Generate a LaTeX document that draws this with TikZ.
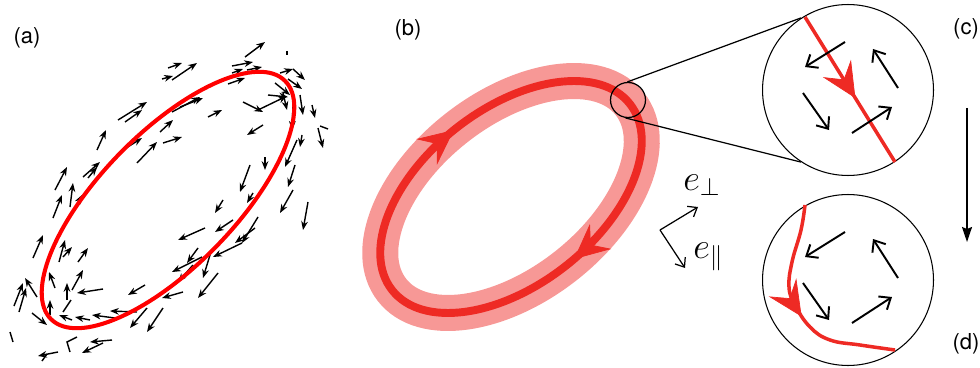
\documentclass[tikz,border=0pt]{standalone}
\usepackage{fontspec}
\setsansfont{TeX Gyre Heros}
\usepackage{tikz}
\usetikzlibrary{arrows.meta, decorations.markings, positioning}
\definecolor{vortexred}{RGB}{255, 0, 0}
\definecolor{loopred}{RGB}{238, 42, 36}
\definecolor{bandpink}{RGB}{247, 152, 150}
\tikzset{
  flowmark/.style={postaction={decorate, decoration={markings, mark=at position #1 with {\arrow[line width=0.4pt]{Stealth[length=0.7cm, width=0.66cm, inset=0.26cm]}}}}},
  spin/.style={-{Stealth[length=5pt, width=3.8pt]}, line width=0.8pt},
  spintick/.style={line width=0.8pt},
  bigspin/.style={-{Straight Barb[length=5.5pt, width=9pt]}, line width=1.1pt},
  zoomcirc/.style={circle, draw, line width=0.6pt, inner sep=0pt, minimum size=3.42cm},
  lenscirc/.style={circle, draw, line width=0.7pt, inner sep=0pt, minimum size=0.7cm},
  zoomline/.style={line width=0.7pt},
  axisarrow/.style={-{Straight Barb[length=4.5pt, width=7pt]}, line width=0.7pt},
  panellabel/.style={inner sep=0pt, font=\sffamily\fontsize{12.5}{15}\selectfont},
  basislabel/.style={anchor=base west, inner sep=0pt, font=\huge}
}

\begin{document}
\begin{tikzpicture}[x=0.02cm, y=-0.02cm]
    \useasboundingbox (0,0) rectangle (980,368);
    % (a) spin field around the vortex loop
    \foreach \xa/\ya/\xb/\yb in {245/57/265/42, 168/68/182/63, 162/79/173/76, 172/80/197/63,
        232/66/253/62, 232/73/243/69, 247/70/262/67, 228/84/245/78, 280/73/293/69, 293/69/305/80,
        288/79/302/89, 275/83/290/95, 268/95/288/97, 243/102/263/112, 258/110/287/96, 283/93/287/110,
        300/95/303/115, 312/105/315/118, 318/128/323/148, 293/105/292/130, 302/135/300/147,
        297/140/285/167, 295/165/288/187, 265/157/265/170, 250/165/240/192, 263/125/247/135,
        208/117/222/110, 253/193/247/203, 223/200/215/213, 308/202/303/230, 293/190/280/213,
        233/220/215/232, 205/228/178/240, 258/217/242/243, 255/228/235/243, 242/243/213/257,
        198/248/187/263, 202/257/172/272, 210/255/203/278, 218/273/198/298, 183/292/162/298,
        193/265/178/282, 118/120/147/102, 125/122/142/110, 137/163/157/142, 163/143/182/137,
        160/132/173/120, 123/150/142/138, 172/112/200/97, 180/107/203/98, 97/150/106/130,
        83/177/100/162, 88/178/97/167, 55/190/67/167, 70/207/73/183, 75/208/82/195, 53/218/62/195,
        33/258/43/235, 59/262/65/240, 63/257/72/247, 78/262/88/248, 55/288/49/272, 72/290/83/270,
        67/300/67/283, 103/289/77/293, 145/285/128/295, 14/306/23/283, 19/312/26/288, 37/297/25/278,
        32/313/47/325, 50/315/50/300, 72/320/59/315, 90/320/75/317, 115/318/92/315, 137/312/110/311,
        147/308/130/328, 163/308/147/332, 112/340/90/342, 103/343/82/353, 58/352/38/356}
        \draw[spin] (\xa,\ya) -- (\xb,\yb);
    \draw[spintick] (287,51) -- (287,55);
    \draw[spintick] (320,126) -- (328,129);
    \draw[spintick] (10,332) -- (13,342);
    \draw[spintick] (77,337) -- (67,342) -- (70,352);
    \draw[spintick] (63,312) -- (71,300);
    \draw[spintick] (42,361) -- (47,354);
    \draw[vortexred, line width=2.3pt, rotate around={45.6:(168,200)}] (168,200) ellipse [x radius=167, y radius=67];
    \node[panellabel] (labela) at (27,38) {(a)};

    % (b) smoothed loop with its core
    \draw[bandpink, line width=0.72cm, rotate around={38:(511,197)}] (511,197) ellipse [x radius=151, y radius=88];
    \draw[loopred, line width=4.5pt, rotate around={38:(511,197)}, flowmark=0.235, flowmark=0.745] (511,197) ellipse [x radius=151, y radius=88];
    \node[panellabel] (labelb) at (408,30) {(b)};
    \node[lenscirc] (lens) at (628,100) {};

    % basis vectors
    \coordinate (axo) at (660,230);
    \coordinate (eperp) at (698,207);
    \coordinate (epar) at (685,268);
    \draw[axisarrow] (axo) -- (eperp);
    \draw[axisarrow] (axo) -- (epar);
    \node[basislabel] (lperp) at (683,190) {$e_\perp$};
    \node[basislabel] (lpar) at (693,258) {$e_\parallel$};

    % (c) zoom before, (d) after
    \node[zoomcirc] (zoomc) at (848,90) {};
    \node[zoomcirc] (zoomd) at (848,280) {};
    \draw[zoomline] (lens.92) -- (zoomc.123);
    \draw[zoomline] (lens.262) -- (zoomc.237);
    \draw[loopred, line width=2pt, flowmark=0.56] (805,17) -- (895,162);
    \draw[loopred, line width=2pt, flowmark=0.53] plot[smooth, tension=0.7] coordinates {(805,205) (801,230) (792,262) (789,287) (795,305) (810,327) (830,340) (860,345) (895,350)};
    \foreach \dy in {0,190} {
        \draw[bigspin] (845,42+\dy) -- (805,67+\dy);
        \draw[bigspin] (898,88+\dy) -- (873,49+\dy);
        \draw[bigspin] (803,93+\dy) -- (829,130+\dy);
        \draw[bigspin] (852,133+\dy) -- (892,107+\dy);
    }
    \coordinate (flowtop) at (967,108);
    \coordinate (flowbot) at (967,242);
    \draw[-{Stealth[length=0.3cm, width=0.2cm, inset=0.04cm]}, line width=0.9pt] (flowtop) -- (flowbot);
    \node[panellabel] (labelc) at (966,29) {(c)};
    \node[panellabel] (labeld) at (966,344) {(d)};
\end{tikzpicture}
\end{document}
